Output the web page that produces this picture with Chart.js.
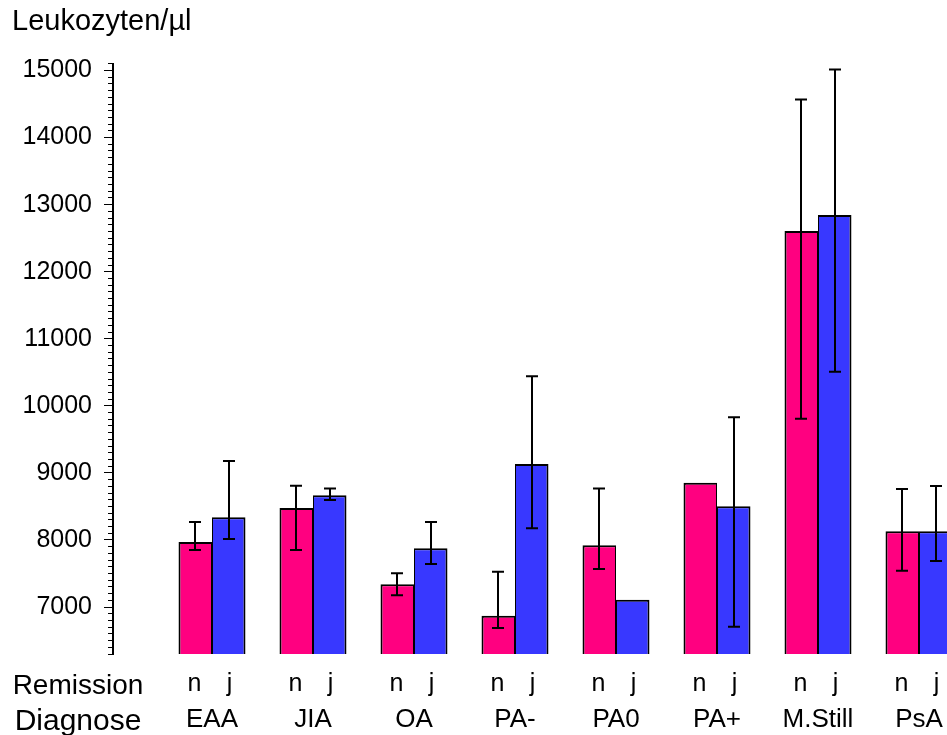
<!DOCTYPE html>
<html>
<head>
<meta charset="utf-8">
<script src="https://cdn.jsdelivr.net/npm/chart.js@4"></script>
<style>
  html, body { margin: 0; padding: 0; background: #fff; overflow: hidden; }
</style>
</head>
<body>
<canvas id="chartLeuko" width="947" height="735"></canvas>
<script>
// Werte (Leukozyten/µl, Mittelwert und Fehlerbalken)
const diagnosen = ['EAA', 'JIA', 'OA', 'PA-', 'PA0', 'PA+', 'M.Still', 'PsA'];
const remission = ['n', 'j'];

const mittelN = [7970, 8478, 7339, 6870, 7921, 8855, 12607, 8130];
const mittelJ = [8339, 8667, 7876, 9134, 7109, 8503, 12846, 8130];

const unterN = [7851, 7851, 7175, 6687, 7567, null, 9806, 7542];
const oberN  = [8269, 8810, 7503, 7527, 8766, null, 14567, 8761];
const unterJ = [8015, 8597, 7642, 8175, null, 6706, 10507, 7687];
const oberJ  = [9179, 8766, 8269, 10443, null, 9831, 15015, 8806];

const yMin = 6300;
const yMax = 15100;

const FONT = '"Liberation Sans", Arial, sans-serif';
const pink = 'rgb(255, 0, 128)';
const blau = 'rgb(56, 56, 255)';

// x-Achse: Gruppen im Abstand 1, erste Gruppe leicht rechts der y-Achse
const xMin = -0.9802;
const xMax = 7.2772;
const beschriftungPos = -1.3267;   // "Remission" / "Diagnose" links
const njVersatz = 0.173;

const fehlerBalken = {
  id: 'fehlerBalken',
  afterDatasetsDraw(chart) {
    const ctx = chart.ctx;
    const y = chart.scales.y;
    const grenzen = [[unterN, oberN], [unterJ, oberJ]];
    ctx.save();
    ctx.strokeStyle = '#000';
    ctx.lineWidth = 2;
    chart.data.datasets.forEach((ds, d) => {
      chart.getDatasetMeta(d).data.forEach((bar, i) => {
        const lo = grenzen[d][0][i];
        const hi = grenzen[d][1][i];
        if (lo == null || hi == null) return;
        const x = Math.round(bar.x);
        const y1 = y.getPixelForValue(lo);
        const y2 = y.getPixelForValue(hi);
        ctx.beginPath();
        ctx.moveTo(x, y1); ctx.lineTo(x, y2);
        ctx.moveTo(x - 6, y1); ctx.lineTo(x + 6, y1);
        ctx.moveTo(x - 6, y2); ctx.lineTo(x + 6, y2);
        ctx.stroke();
      });
    });
    ctx.restore();
  }
};

const ctx = document.getElementById('chartLeuko');

new Chart(ctx, {
  type: 'bar',
  data: {
    datasets: [{
      label: 'n',
      data: mittelN.map((v, i) => ({ x: i, y: v })),
      backgroundColor: pink,
      borderColor: '#000',
      borderWidth: { top: 2, bottom: 2, left: 2, right: 1 },
      borderSkipped: false
    }, {
      label: 'j',
      data: mittelJ.map((v, i) => ({ x: i, y: v })),
      backgroundColor: blau,
      borderColor: '#000',
      borderWidth: { top: 2, bottom: 2, left: 1, right: 2 },
      borderSkipped: false
    }]
  },
  options: {
    responsive: false,
    animation: false,
    events: [],
    barPercentage: 1,
    categoryPercentage: 67 / 101,
    layout: { padding: { left: 12, right: 0, top: 0, bottom: 0 } },
    plugins: {
      legend: { display: false },
      tooltip: { enabled: false },
      title: {
        display: true,
        text: 'Leukozyten/µl',
        align: 'start',
        color: '#000',
        font: { family: FONT, size: 29, weight: 'normal' },
        padding: { top: 5, bottom: 24 }
      }
    },
    scales: {
      y: {
        min: yMin,
        max: yMax,
        afterFit: s => { s.width = 101; },
        border: { display: true, color: '#000', width: 2 },
        grid: {
          drawOnChartArea: false,
          drawTicks: true,
          tickLength: 9,
          tickColor: '#000',
          tickWidth: 1,
          tickBorderDash: c => (c.tick && Math.round(c.tick.value) % 1000 === 0) ? [] : [0, 4, 5, 100]
        },
        ticks: {
          stepSize: 100,
          autoSkip: false,
          padding: 12,
          color: '#000',
          font: { family: FONT, size: 25 },
          callback: v => Math.round(v) % 1000 === 0 ? String(Math.round(v)) : ''
        }
      },
      x: {
        type: 'linear',
        position: 'bottom',
        offset: false,
        weight: 1,
        min: xMin,
        max: xMax,
        afterBuildTicks: s => {
          s.ticks = [{ value: beschriftungPos }].concat(diagnosen.map((_, i) => ({ value: i })));
        },
        afterFit: s => { s.height = 31; s.paddingLeft = 0; s.paddingRight = 0; },
        grid: { display: false, drawTicks: false },
        border: { display: false },
        ticks: {
          autoSkip: false,
          maxRotation: 0,
          padding: 0,
          color: '#000',
          font: c => ({ family: FONT, size: c.index === 0 ? 30 : 26 }),
          callback: (v, i) => i === 0 ? 'Diagnose' : diagnosen[i - 1]
        }
      },
      x2: {
        type: 'linear',
        position: 'bottom',
        offset: false,
        weight: 0,
        min: xMin,
        max: xMax,
        afterBuildTicks: s => {
          const t = [{ value: beschriftungPos }];
          diagnosen.forEach((_, i) => {
            t.push({ value: i - njVersatz });
            t.push({ value: i + njVersatz });
          });
          s.ticks = t;
        },
        afterFit: s => { s.height = 50; s.paddingLeft = 0; s.paddingRight = 0; },
        grid: { display: false, drawTicks: false },
        border: { display: false },
        ticks: {
          autoSkip: false,
          maxRotation: 0,
          padding: 15,
          color: '#000',
          font: c => ({ family: FONT, size: c.index === 0 ? 28 : 25 }),
          callback: (v, i) => i === 0 ? 'Remission' : remission[(i - 1) % 2]
        }
      }
    }
  },
  plugins: [fehlerBalken]
});
</script>
</body>
</html>
